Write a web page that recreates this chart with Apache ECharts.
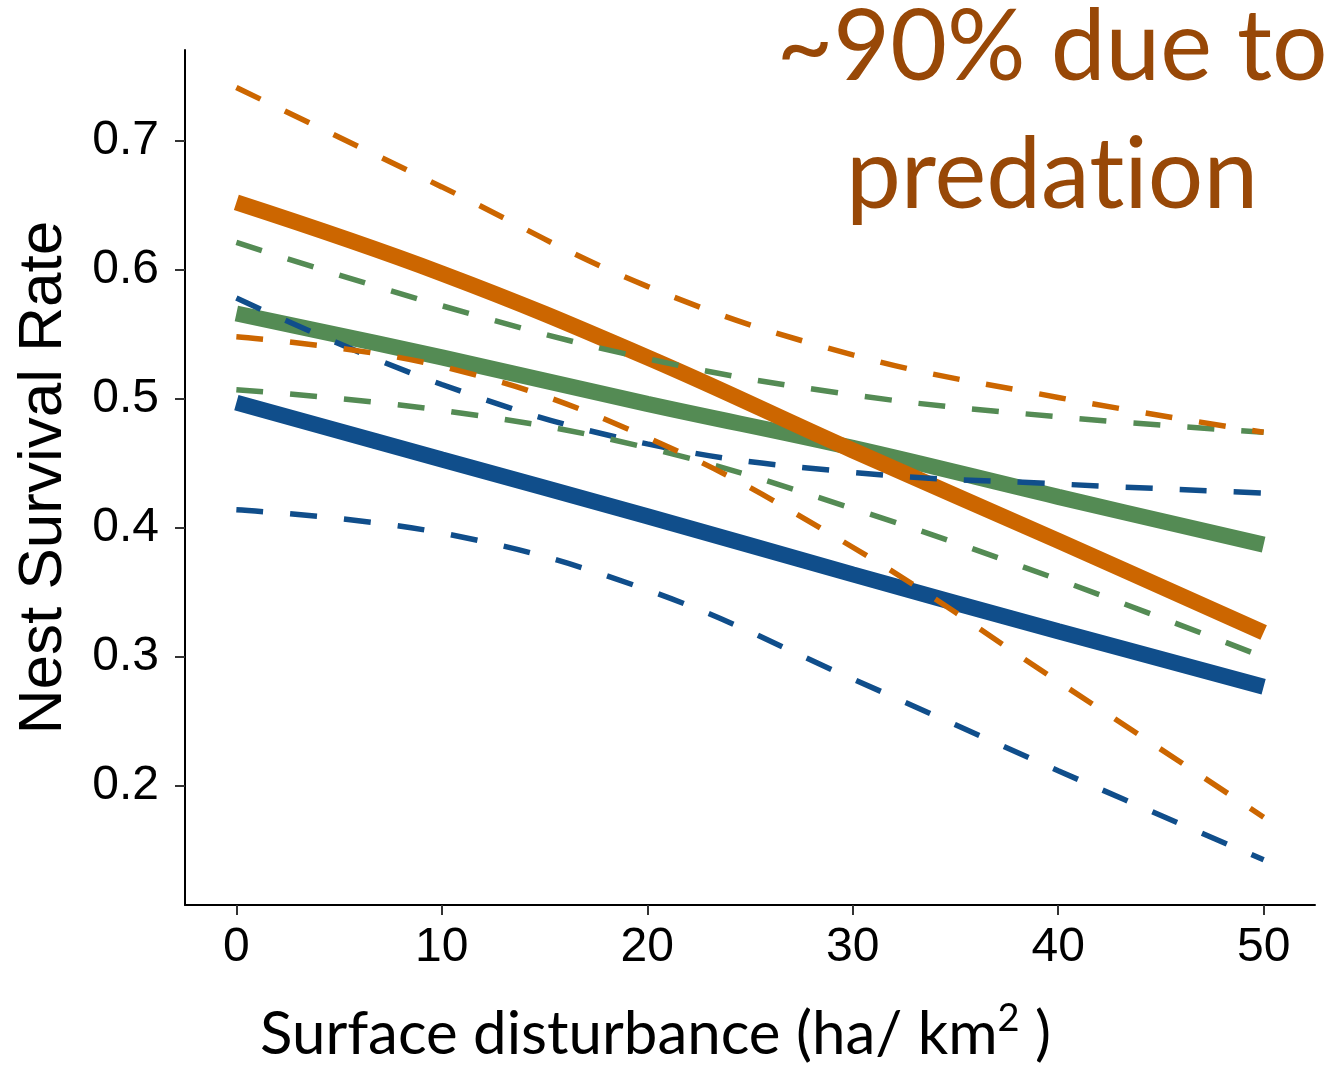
<!DOCTYPE html>
<html>
<head>
<meta charset="utf-8">
<script src="https://cdn.jsdelivr.net/npm/echarts@6/dist/echarts.min.js"></script>
<style>
  html, body { margin: 0; padding: 0; background: #fff; }
  #chart { width: 1334px; height: 1067px; }
</style>
</head>
<body>
<div id="chart"></div>
<script>
// surface disturbance (ha/km2)
const xs = [0, 10, 20, 30, 40, 50];
const xTicks = [0, 10, 20, 30, 40, 50];
const yTicks = [0.2, 0.3, 0.4, 0.5, 0.6, 0.7];

// fitted nest survival
const orangeFit = [0.652, 0.597, 0.532, 0.460, 0.390, 0.319];
const orangeHi  = [0.741, 0.664, 0.587, 0.534, 0.501, 0.474];
const orangeLo  = [0.548, 0.525, 0.470, 0.385, 0.281, 0.176];

const greenFit = [0.566, 0.532, 0.496, 0.462, 0.424, 0.387];
const greenHi  = [0.621, 0.572, 0.531, 0.503, 0.486, 0.474];
const greenLo  = [0.507, 0.491, 0.462, 0.415, 0.360, 0.300];

const blueFit = [0.497, 0.453, 0.409, 0.364, 0.320, 0.277];
const blueHi  = [0.578, 0.511, 0.465, 0.443, 0.434, 0.427];
const blueLo  = [0.414, 0.396, 0.352, 0.283, 0.212, 0.143];

const ORANGE = '#cc6600';
const GREEN = '#548b54';
const BLUE = '#104e8b';
const ARIAL = 'Liberation Sans, Arial, sans-serif';

function pts(vals) {
    return xs.map((x, i) => [x, vals[i]]);
}

function fitLine(vals, color) {
    return {
        type: 'line', data: pts(vals), showSymbol: false, smooth: 0.4,
        lineStyle: { color: color, width: 16, cap: 'butt' }, silent: true
    };
}

function ciLine(vals, color) {
    return {
        type: 'line', data: pts(vals), showSymbol: false, smooth: 0.4,
        lineStyle: { color: color, width: 5.5, type: [27, 27], cap: 'butt' }, silent: true
    };
}

const titleRich = {
    t: { fontSize: 98, fontFamily: 'Lato, "Open Sans", sans-serif', fill: '#984807' }
};

const chart = echarts.init(document.getElementById('chart'));
chart.setOption({
    animation: false,
    grid: { left: 185, right: 19, top: 50, bottom: 162 },
    xAxis: {
        type: 'value', min: -2.5, max: 52.5,
        splitLine: { show: false },
        axisLine: { onZero: false, lineStyle: { color: '#000', width: 2 } },
        axisTick: { customValues: xTicks, length: 10, lineStyle: { color: '#333', width: 2 } },
        axisLabel: { customValues: xTicks, margin: 19, color: '#000', fontSize: 48, fontFamily: ARIAL }
    },
    yAxis: {
        type: 'value', min: 0.108, max: 0.770,
        splitLine: { show: false },
        axisLine: { show: true, onZero: false, lineStyle: { color: '#000', width: 2 } },
        axisTick: { show: true, customValues: yTicks, length: 10, lineStyle: { color: '#333', width: 2 } },
        axisLabel: {
            customValues: yTicks, margin: 26, color: '#000', fontSize: 48, fontFamily: ARIAL,
            formatter: v => v.toFixed(1)
        },
        name: 'Nest Survival Rate', nameLocation: 'middle', nameGap: 110,
        nameTextStyle: { fontSize: 62, color: '#000', fontFamily: ARIAL }
    },
    series: [
        fitLine(blueFit, BLUE),
        fitLine(greenFit, GREEN),
        fitLine(orangeFit, ORANGE),
        ciLine(blueHi, BLUE),
        ciLine(blueLo, BLUE),
        ciLine(greenHi, GREEN),
        ciLine(greenLo, GREEN),
        ciLine(orangeHi, ORANGE),
        ciLine(orangeLo, ORANGE)
    ],
    graphic: [
        {
            type: 'text', x: 1052, y: 48,
            style: { text: '{t|~90% due to}', rich: titleRich, textAlign: 'center', textVerticalAlign: 'middle' }
        },
        {
            // split into two runs so Lato does not draw its "ti" ligature
            type: 'text', x: 1052, y: 176,
            style: { text: '{t|predat}{t|ion}', rich: titleRich, textAlign: 'center', textVerticalAlign: 'middle' }
        },
        {
            type: 'text', x: 260, y: 1035,
            style: {
                text: '{a|Surface disturbance (ha/ km}{s|2}{a| )}',
                textAlign: 'left', textVerticalAlign: 'middle',
                rich: {
                    a: { fontSize: 60, fontFamily: 'Lato, sans-serif', fill: '#000', lineHeight: 70 },
                    s: { fontSize: 38, fontFamily: 'Lato, sans-serif', fill: '#000', verticalAlign: 'top', lineHeight: 70, padding: [0, 0, 20, 0] }
                }
            }
        }
    ]
});
</script>
</body>
</html>
